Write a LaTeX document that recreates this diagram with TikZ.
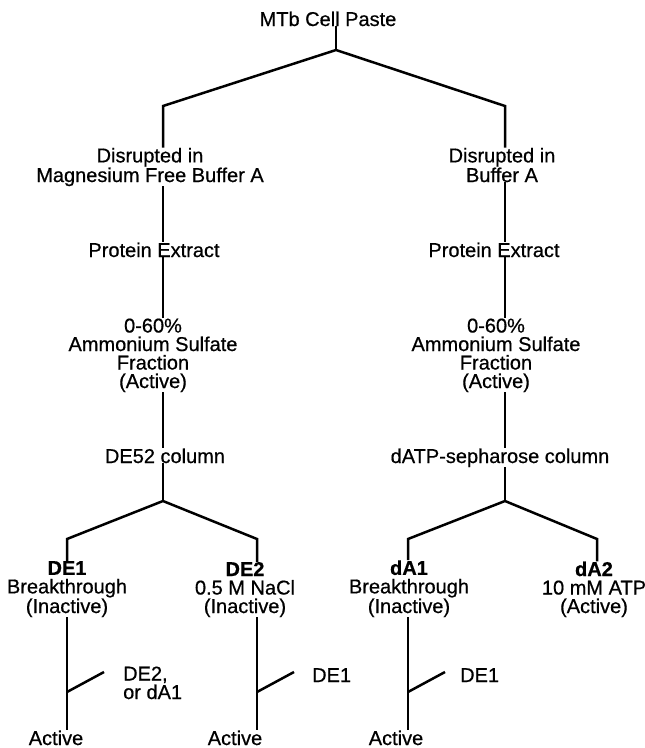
\documentclass[tikz,border=0pt]{standalone}
\usepackage{fontspec}
\setmainfont{Liberation Sans}[FakeBold=0.6]

\begin{document}
\begin{tikzpicture}[x=1pt, y=-1pt,
  every node/.style={font=\fontsize{20}{18.5}\selectfont, inner sep=0pt, anchor=base},
  box/.style={align=center},
  stem/.style={line width=1.9pt},
  fork/.style={line width=2.5pt, line join=miter}]
  \useasboundingbox (0,0) rectangle (645,748);

  % top of the scheme (multi-line nodes sit on their last baseline)
  \node (paste) at (328,26) {MTb Cell Paste};
  \coordinate (top) at (336,50);
  \coordinate (aL) at (163,106);
  \coordinate (aR) at (505,106);

  \node[box] (disL) at (150,182) {Disrupted in\\Magnesium Free Buffer A};
  \node[box] (disR) at (502,182) {Disrupted in\\Buffer A};
  \node (protL) at (154,257) {Protein Extract};
  \node (protR) at (494,257) {Protein Extract};
  \node[box] (ammL) at (153,388) {0-60\%\\Ammonium Sulfate\\Fraction\\(Active)};
  \node[box] (ammR) at (496,388) {0-60\%\\Ammonium Sulfate\\Fraction\\(Active)};
  \node (colL) at (165,463) {DE52 column};
  \node (colR) at (500,463) {dATP-sepharose column};

  \draw[stem] (paste.south -| top) -- (top);
  \draw[fork] (disL.north -| aL) -- (aL) -- (top) -- (aR) -- (disR.north -| aR);
  \draw[stem] (disL.south -| aL) -- (protL.north -| aL);
  \draw[stem] (disR.south -| aR) -- (protR.north -| aR);
  \draw[stem] (protL.south -| aL) -- (ammL.north -| aL);
  \draw[stem] (protR.south -| aR) -- (ammR.north -| aR);
  \draw[stem] (ammL.south -| aL) -- (colL.north -| aL);
  \draw[stem] (ammR.south -| aR) -- (colR.north -| aR);

  % columns
  \coordinate (bL) at (163,501);
  \coordinate (bR) at (505,501);
  \coordinate (c1) at (67,539);
  \coordinate (c2) at (257,539);
  \coordinate (c3) at (408,539);
  \coordinate (c4) at (597,539);

  \node[box] (de1) at (67,613) {\textbf{DE1}\\Breakthrough\\(Inactive)};
  \node[box] (de2) at (245,613) {\textbf{DE2}\\0.5 M NaCl\\(Inactive)};
  \node[box] (da1) at (409,613) {\textbf{dA1}\\Breakthrough\\(Inactive)};
  \node[box] (da2) at (594,613) {\textbf{dA2}\\10 mM ATP\\(Active)};

  \draw[stem] (colL.south -| bL) -- (bL);
  \draw[stem] (colR.south -| bR) -- (bR);
  \draw[fork] (de1.north -| c1) -- (c1) -- (bL) -- (c2) -- (de2.north -| c2);
  \draw[fork] (da1.north -| c3) -- (c3) -- (bR) -- (c4) -- (da2.north -| c4);

  % mixing
  \coordinate (j1) at (67,692);
  \coordinate (j2) at (257,692);
  \coordinate (j3) at (408,692);
  \coordinate (k1) at (104,672);
  \coordinate (k2) at (294,672);
  \coordinate (k3) at (445,672);

  \node[align=left, anchor=base west] (add1) at (123,699) {DE2,\\or dA1};
  \node[anchor=base west] (add2) at (312,682) {DE1};
  \node[anchor=base west] (add3) at (460,682) {DE1};

  \node (act1) at (56,745) {Active};
  \node (act2) at (235,745) {Active};
  \node (act3) at (396,745) {Active};

  \draw[stem] (de1.south -| c1) -- (act1.north -| c1);
  \draw[stem] (de2.south -| c2) -- (act2.north -| c2);
  \draw[stem] (da1.south -| c3) -- (act3.north -| c3);
  \draw[fork] (j1) -- (k1);
  \draw[fork] (j2) -- (k2);
  \draw[fork] (j3) -- (k3);
\end{tikzpicture}
\end{document}
